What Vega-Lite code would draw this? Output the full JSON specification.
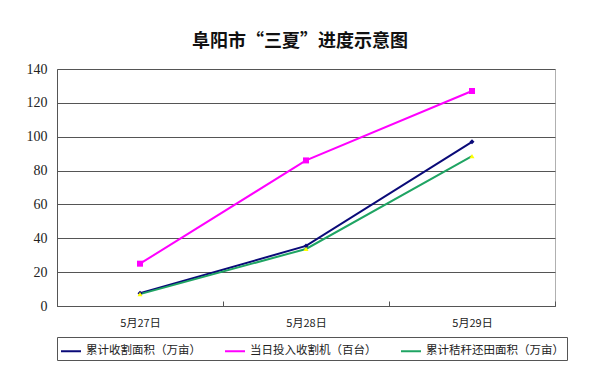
{
  "$schema": "https://vega.github.io/schema/vega-lite/v6.json",
  "width": 498,
  "height": 237,
  "autosize": {"type": "none"},
  "padding": {"left": 57, "top": 69, "right": 45, "bottom": 66},
  "background": "white",
  "title": {
    "text": "阜阳市“三夏”进度示意图",
    "font": "Noto Sans CJK SC",
    "fontSize": 18,
    "fontWeight": "bold",
    "color": "#111111",
    "anchor": "middle",
    "dx": -6,
    "offset": 11
  },
  "config": {
    "view": {"stroke": "#b0b0b0", "strokeWidth": 1},
    "font": "Noto Sans CJK SC"
  },
  "data": {
    "values": [
      {"date": "5月27日", "series": "累计收割面积（万亩）", "value": 7.5},
      {"date": "5月28日", "series": "累计收割面积（万亩）", "value": 35.5},
      {"date": "5月29日", "series": "累计收割面积（万亩）", "value": 97},
      {"date": "5月27日", "series": "当日投入收割机（百台）", "value": 25},
      {"date": "5月28日", "series": "当日投入收割机（百台）", "value": 86},
      {"date": "5月29日", "series": "当日投入收割机（百台）", "value": 127},
      {"date": "5月27日", "series": "累计秸秆还田面积（万亩）", "value": 7},
      {"date": "5月28日", "series": "累计秸秆还田面积（万亩）", "value": 33.7},
      {"date": "5月29日", "series": "累计秸秆还田面积（万亩）", "value": 88.5}
    ]
  },
  "encoding": {
    "x": {
      "field": "date",
      "type": "nominal",
      "sort": null,
      "scale": {"paddingInner": 0, "paddingOuter": 0},
      "axis": {
        "title": null,
        "labelAngle": 0,
        "labelFont": "Noto Sans CJK SC",
        "labelFontSize": 11,
        "labelColor": "#222222",
        "labelPadding": 16,
        "domainColor": "#555555",
        "tickColor": "#555555",
        "tickBand": "extent",
        "tickSize": -5,
        "grid": false
      }
    },
    "y": {
      "field": "value",
      "type": "quantitative",
      "scale": {"domain": [0, 140], "nice": false},
      "axis": {
        "title": null,
        "values": [0, 20, 40, 60, 80, 100, 120, 140],
        "labelFont": "Liberation Serif",
        "labelFontSize": 14,
        "labelColor": "#222222",
        "labelPadding": 10,
        "ticks": false,
        "domainColor": "#555555",
        "gridColor": "#555555",
        "gridOpacity": 1,
        "gridWidth": 1
      }
    }
  },
  "layer": [
    {
      "mark": {"type": "line", "strokeWidth": 2},
      "encoding": {
        "stroke": {
          "field": "series",
          "type": "nominal",
          "scale": {
            "domain": ["累计收割面积（万亩）", "当日投入收割机（百台）", "累计秸秆还田面积（万亩）"],
            "range": ["#0a0a78", "#ff00ff", "#1fa463"]
          },
          "legend": {
            "title": null,
            "orient": "none",
            "direction": "horizontal",
            "legendX": 0,
            "legendY": 268,
            "symbolType": "stroke",
            "symbolSize": 400,
            "symbolStrokeWidth": 2,
            "labelFont": "Noto Sans CJK SC",
            "labelFontSize": 11.5,
            "labelColor": "#222222",
            "labelOffset": 4,
            "columnPadding": 20,
            "padding": 3,
            "strokeColor": "#555555",
            "fillColor": "white"
          }
        }
      }
    },
    {
      "transform": [{"filter": "datum.series === '累计收割面积（万亩）'"}],
      "mark": {"type": "point", "filled": true, "opacity": 1, "shape": "diamond", "color": "#0a0a78", "size": 25},
      "encoding": {}
    },
    {
      "transform": [{"filter": "datum.series === '当日投入收割机（百台）'"}],
      "mark": {"type": "point", "filled": true, "opacity": 1, "shape": "square", "color": "#ff00ff", "size": 36},
      "encoding": {}
    },
    {
      "transform": [{"filter": "datum.series === '累计秸秆还田面积（万亩）'"}],
      "mark": {"type": "point", "filled": true, "opacity": 1, "shape": "triangle-up", "color": "#ffff00", "size": 25},
      "encoding": {}
    }
  ]
}
